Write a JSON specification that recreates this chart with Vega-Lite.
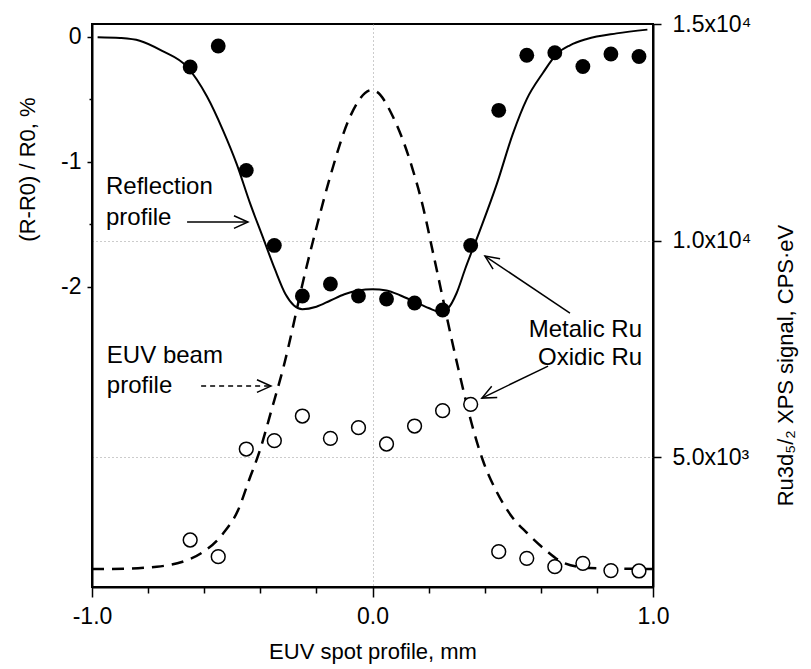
{
  "$schema": "https://vega.github.io/schema/vega-lite/v6.json",
  "autosize": {"type": "none"},
  "padding": {"left": 92, "top": 24, "right": 158, "bottom": 82},
  "width": 561,
  "height": 563,
  "background": "white",
  "config": {
    "view": {"stroke": "black", "strokeWidth": 2},
    "axis": {
      "grid": false,
      "domainColor": "black",
      "domainWidth": 2,
      "tickColor": "black",
      "tickWidth": 1.5,
      "labelColor": "black",
      "titleColor": "black",
      "labelFont": "Liberation Sans",
      "titleFont": "Liberation Sans",
      "labelFontSize": 23,
      "titleFontSize": 22,
      "titleFontWeight": "normal",
      "gridColor": "#999999",
      "gridDash": [1, 3],
      "gridWidth": 1
    },
    "text": {"font": "Liberation Sans"}
  },
  "datasets": {
    "refl": [
      {"x": -0.98, "y": -0.005}, {"x": -0.9, "y": -0.012}, {"x": -0.83, "y": -0.034},
      {"x": -0.75, "y": -0.115}, {"x": -0.66, "y": -0.245}, {"x": -0.59, "y": -0.48},
      {"x": -0.533, "y": -0.75}, {"x": -0.484, "y": -1.02}, {"x": -0.437, "y": -1.33},
      {"x": -0.39, "y": -1.61}, {"x": -0.348, "y": -1.86}, {"x": -0.31, "y": -2.06},
      {"x": -0.28, "y": -2.15}, {"x": -0.25, "y": -2.18}, {"x": -0.2, "y": -2.16},
      {"x": -0.15, "y": -2.11}, {"x": -0.1, "y": -2.06}, {"x": -0.05, "y": -2.03},
      {"x": 0.0, "y": -2.02}, {"x": 0.05, "y": -2.03}, {"x": 0.1, "y": -2.07},
      {"x": 0.15, "y": -2.12}, {"x": 0.2, "y": -2.17}, {"x": 0.24, "y": -2.2},
      {"x": 0.27, "y": -2.17}, {"x": 0.3, "y": -2.05}, {"x": 0.33, "y": -1.86},
      {"x": 0.383, "y": -1.55}, {"x": 0.443, "y": -1.18}, {"x": 0.5, "y": -0.78},
      {"x": 0.55, "y": -0.5}, {"x": 0.608, "y": -0.29}, {"x": 0.657, "y": -0.14},
      {"x": 0.704, "y": -0.07}, {"x": 0.764, "y": -0.02}, {"x": 0.87, "y": 0.025},
      {"x": 0.98, "y": 0.055}
    ],
    "metal": [
      {"x": -0.65, "y": -0.244}, {"x": -0.55, "y": -0.076}, {"x": -0.45, "y": -1.07},
      {"x": -0.35, "y": -1.67}, {"x": -0.25, "y": -2.074}, {"x": -0.15, "y": -1.978},
      {"x": -0.05, "y": -2.074}, {"x": 0.05, "y": -2.098}, {"x": 0.15, "y": -2.13},
      {"x": 0.25, "y": -2.186}, {"x": 0.35, "y": -1.67}, {"x": 0.45, "y": -0.59},
      {"x": 0.55, "y": -0.15}, {"x": 0.65, "y": -0.13}, {"x": 0.75, "y": -0.24},
      {"x": 0.85, "y": -0.14}, {"x": 0.95, "y": -0.16}
    ],
    "oxide": [
      {"x": -0.65, "y": 3085}, {"x": -0.55, "y": 2700}, {"x": -0.45, "y": 5186},
      {"x": -0.35, "y": 5379}, {"x": -0.25, "y": 5948}, {"x": -0.15, "y": 5433},
      {"x": -0.05, "y": 5679}, {"x": 0.05, "y": 5302}, {"x": 0.15, "y": 5717},
      {"x": 0.25, "y": 6071}, {"x": 0.35, "y": 6218}, {"x": 0.45, "y": 2815},
      {"x": 0.55, "y": 2662}, {"x": 0.65, "y": 2469}, {"x": 0.75, "y": 2547},
      {"x": 0.85, "y": 2380}, {"x": 0.95, "y": 2370}
    ],
    "beam": [
      {"x": -1.0, "y": 2416}, {"x": -0.929, "y": 2416}, {"x": -0.769, "y": 2469},
      {"x": -0.677, "y": 2584}, {"x": -0.611, "y": 2778}, {"x": -0.532, "y": 3240},
      {"x": -0.479, "y": 3778}, {"x": -0.44, "y": 4471}, {"x": -0.401, "y": 5164},
      {"x": -0.36, "y": 6087}, {"x": -0.32, "y": 7011}, {"x": -0.235, "y": 9396},
      {"x": -0.199, "y": 10319}, {"x": -0.151, "y": 11474}, {"x": -0.08, "y": 12859},
      {"x": -0.003, "y": 13476}, {"x": 0.015, "y": 13437}, {"x": 0.073, "y": 12859},
      {"x": 0.144, "y": 11628}, {"x": 0.18, "y": 10781}, {"x": 0.216, "y": 9712},
      {"x": 0.307, "y": 7011}, {"x": 0.353, "y": 5787}, {"x": 0.393, "y": 4932},
      {"x": 0.445, "y": 4171}, {"x": 0.497, "y": 3623}, {"x": 0.551, "y": 3247},
      {"x": 0.617, "y": 2854}, {"x": 0.683, "y": 2554}, {"x": 0.775, "y": 2439},
      {"x": 1.0, "y": 2416}
    ],
    "notesLeft": [
      {"label": "Reflection", "x": -0.95, "y": -1.203},
      {"label": "profile", "x": -0.95, "y": -1.451},
      {"label": "EUV beam", "x": -0.947, "y": -2.554},
      {"label": "profile", "x": -0.947, "y": -2.794}
    ],
    "notesRight": [
      {"label": "Metalic Ru", "x": 0.961, "y": -2.346},
      {"label": "Oxidic Ru", "x": 0.961, "y": -2.57}
    ],
    "arrows": [
      {"name": "refl", "x": -0.661, "y": -1.483, "x2": -0.444, "y2": -1.483},
      {"name": "metal", "x": 0.704, "y": -2.21, "x2": 0.401, "y2": -1.755},
      {"name": "oxide", "x": 0.626, "y": -2.634, "x2": 0.39, "y2": -2.89},
      {"name": "beam", "x": -0.611, "y": -2.794, "x2": -0.362, "y2": -2.794}
    ]
  },
  "layer": [
    {
      "layer": [
        {
          "data": {"name": "refl"},
          "mark": {"type": "line", "color": "black", "strokeWidth": 2, "interpolate": "monotone"},
          "encoding": {
            "x": {
              "field": "x", "type": "quantitative",
              "scale": {"domain": [-1, 1], "nice": false, "zero": false},
              "axis": {
                "title": "EUV spot profile, mm",
                "values": [-1, -0.9, -0.8, -0.7, -0.6, -0.5, -0.4, -0.3, -0.2, -0.1, 0, 0.1, 0.2, 0.3, 0.4, 0.5, 0.6, 0.7, 0.8, 0.9, 1],
                "labelExpr": "abs(datum.value*2 - round(datum.value*2)) < 0.001 ? replace(format(datum.value, '.1f'), '−', '-') : ''",
                "tickSize": {"condition": {"test": "abs(datum.value*2 - round(datum.value*2)) < 0.001", "value": 10}, "value": 6},
                "labelPadding": 8,
                "labelFlush": false,
                "labelOverlap": false,
                "grid": true,
                "gridOpacity": {"condition": {"test": "abs(abs(datum.value) - 0.5) < 0.001 || abs(datum.value) < 0.001", "value": 1}, "value": 0},
                "titleBaseline": "alphabetic",
                "titleY": 71
              }
            },
            "y": {
              "field": "y", "type": "quantitative",
              "scale": {"domain": [-4.4, 0.1], "nice": false, "zero": false},
              "axis": {
                "orient": "left",
                "title": "(R-R0) / R0, %",
                "values": [0, -0.5, -1, -1.5, -2],
                "labelExpr": "datum.value == 0 ? '0' : datum.value == -1 ? '-1' : datum.value == -2 ? '-2' : ''",
                "tickSize": {"condition": {"test": "datum.value == 0 || datum.value == -1 || datum.value == -2", "value": 5}, "value": 3},
                "labelPadding": 6,
                "labelOverlap": false,
                "labelFlush": false,
                "grid": false,
                "titleAngle": 270,
                "titleBaseline": "middle",
                "titleAlign": "center",
                "titleX": -65,
                "titleY": 145
              }
            }
          }
        },
        {
          "data": {"name": "metal"},
          "mark": {"type": "point", "shape": "circle", "filled": true, "color": "black", "size": 220, "opacity": 1},
          "encoding": {
            "x": {"field": "x", "type": "quantitative"},
            "y": {"field": "y", "type": "quantitative"}
          }
        },
        {
          "data": {"name": "notesLeft"},
          "mark": {"type": "text", "align": "left", "baseline": "middle", "fontSize": 24, "color": "black"},
          "encoding": {
            "x": {"field": "x", "type": "quantitative"},
            "y": {"field": "y", "type": "quantitative"},
            "text": {"field": "label"}
          }
        },
        {
          "data": {"name": "notesRight"},
          "mark": {"type": "text", "align": "right", "baseline": "middle", "fontSize": 24, "color": "black"},
          "encoding": {
            "x": {"field": "x", "type": "quantitative"},
            "y": {"field": "y", "type": "quantitative"},
            "text": {"field": "label"}
          }
        },
        {
          "data": {"name": "arrows"},
          "transform": [{"filter": "datum.name != 'beam'"}],
          "mark": {"type": "rule", "color": "black", "strokeWidth": 1.5},
          "encoding": {
            "x": {"field": "x", "type": "quantitative"},
            "y": {"field": "y", "type": "quantitative"},
            "x2": {"field": "x2"},
            "y2": {"field": "y2"}
          }
        },
        {
          "data": {"name": "arrows"},
          "transform": [{"filter": "datum.name == 'beam'"}],
          "mark": {"type": "rule", "color": "black", "strokeWidth": 1.5, "strokeDash": [5, 4]},
          "encoding": {
            "x": {"field": "x", "type": "quantitative"},
            "y": {"field": "y", "type": "quantitative"},
            "x2": {"field": "x2"},
            "y2": {"field": "y2"}
          }
        },
        {
          "data": {"name": "arrows"},
          "transform": [{"filter": "datum.name == 'refl' || datum.name == 'beam'"}],
          "mark": {"type": "point", "shape": "M -1 -0.45 L 0 0 L -1 0.45", "filled": false, "stroke": "black", "strokeWidth": 1.5, "size": 784, "angle": 0, "opacity": 1},
          "encoding": {
            "x": {"field": "x2", "type": "quantitative"},
            "y": {"field": "y2", "type": "quantitative"}
          }
        },
        {
          "data": {"name": "arrows"},
          "transform": [{"filter": "datum.name == 'metal'"}],
          "mark": {"type": "point", "shape": "M -1 -0.45 L 0 0 L -1 0.45", "filled": false, "stroke": "black", "strokeWidth": 1.5, "size": 784, "angle": 214, "opacity": 1},
          "encoding": {
            "x": {"field": "x2", "type": "quantitative"},
            "y": {"field": "y2", "type": "quantitative"}
          }
        },
        {
          "data": {"name": "arrows"},
          "transform": [{"filter": "datum.name == 'oxide'"}],
          "mark": {"type": "point", "shape": "M -1 -0.45 L 0 0 L -1 0.45", "filled": false, "stroke": "black", "strokeWidth": 1.5, "size": 784, "angle": 154, "opacity": 1},
          "encoding": {
            "x": {"field": "x2", "type": "quantitative"},
            "y": {"field": "y2", "type": "quantitative"}
          }
        }
      ]
    },
    {
      "layer": [
        {
          "data": {"name": "beam"},
          "mark": {"type": "line", "color": "black", "strokeWidth": 2.5, "strokeDash": [12, 8], "interpolate": "monotone"},
          "encoding": {
            "x": {"field": "x", "type": "quantitative"},
            "y": {
              "field": "y", "type": "quantitative",
              "scale": {"domain": [2000, 15000], "nice": false, "zero": false},
              "axis": {
                "orient": "right",
                "title": "Ru3d₅/₂  XPS signal, CPS·eV",
                "values": [5000, 10000, 15000],
                "labelExpr": "datum.value == 15000 ? '1.5x10⁴' : datum.value == 10000 ? '1.0x10⁴' : '5.0x10³'",
                "tickSize": 8,
                "labelPadding": 11,
                "labelOverlap": false,
                "labelFlush": false,
                "grid": true,
                "gridOpacity": {"condition": {"test": "datum.value == 15000", "value": 0}, "value": 1},
                "titleAngle": 270,
                "titleBaseline": "middle",
                "titleAlign": "center",
                "titleX": 132,
                "titleY": 341
              }
            }
          }
        },
        {
          "data": {"name": "oxide"},
          "mark": {"type": "point", "shape": "circle", "filled": false, "stroke": "black", "fill": "white", "fillOpacity": 1, "strokeWidth": 1.5, "size": 190, "opacity": 1},
          "encoding": {
            "x": {"field": "x", "type": "quantitative"},
            "y": {"field": "y", "type": "quantitative"}
          }
        }
      ]
    }
  ],
  "resolve": {"scale": {"y": "independent"}}
}
